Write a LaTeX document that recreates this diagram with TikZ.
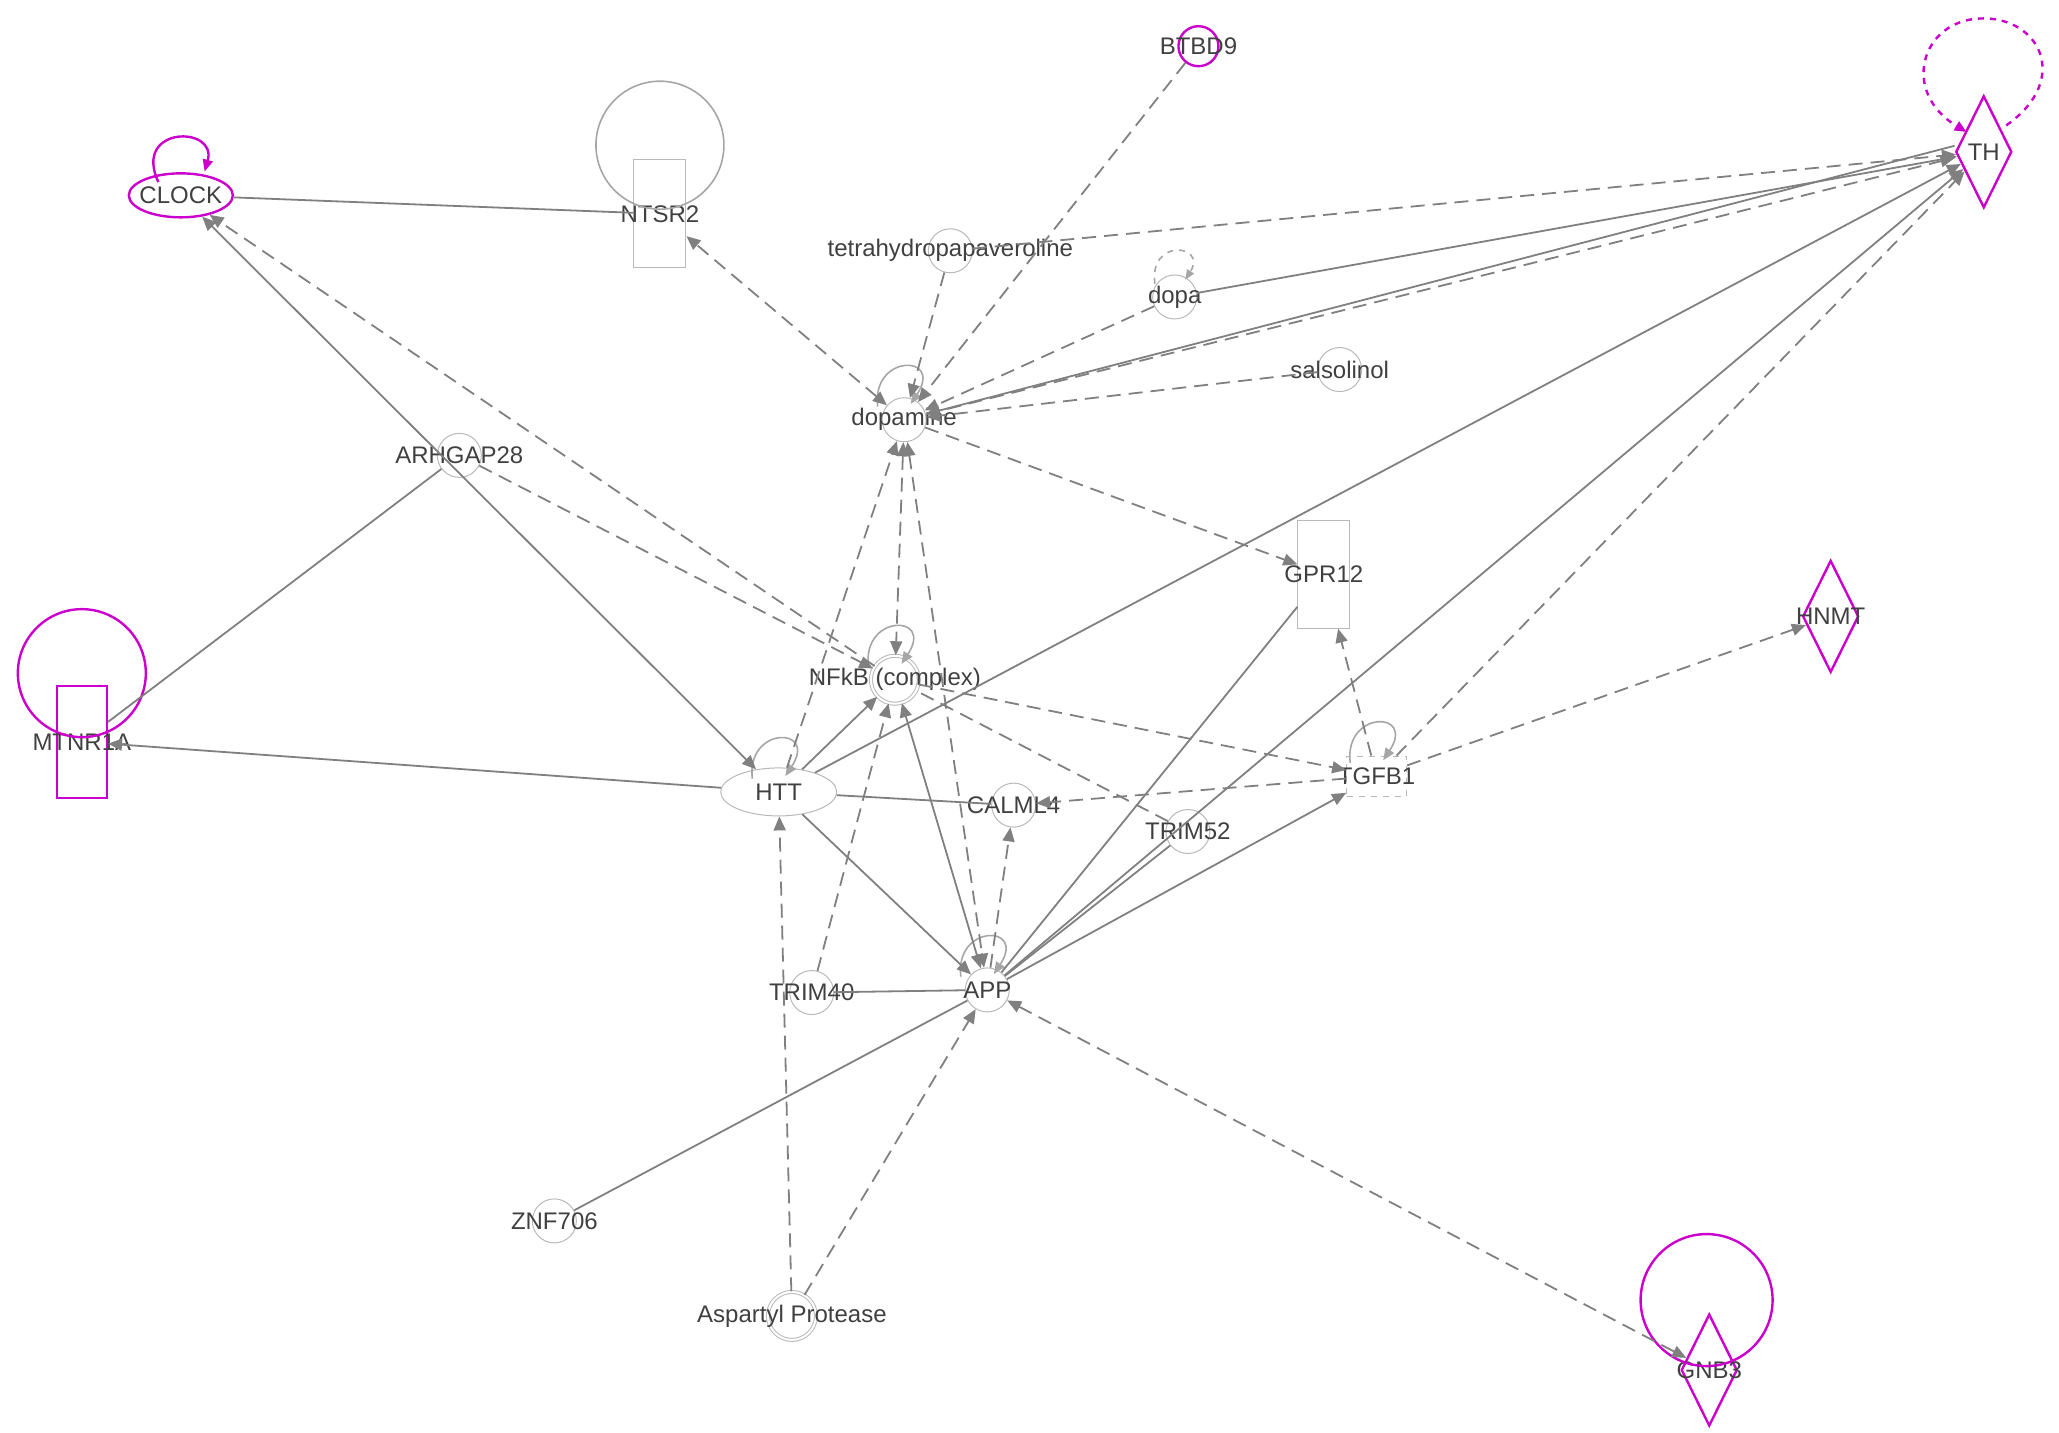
\documentclass[tikz,border=0pt]{standalone}
\usepackage{fontspec}
\setmainfont{Liberation Sans}
\usetikzlibrary{shapes.geometric,arrows.meta}
\definecolor{mg}{RGB}{204,0,204}
\begin{document}
\begin{tikzpicture}[x=0.66pt,y=-0.66pt,
  font=\fontsize{12}{14}\selectfont\color{black!75},
  sh/.style={draw=gray!55,line width=0.5pt,inner sep=0pt},
  circ/.style={sh,circle,minimum size=22pt,label={center:#1}},
  dcirc/.style={sh,circle,double,double distance=1pt,minimum size=24pt,label={center:#1}},
  rct/.style={sh,rectangle,minimum width=26pt,minimum height=54pt,label={center:#1}},
  mag/.style={draw=mg,line width=1.2pt},
  dia/.style={mag,diamond,aspect=0.5,minimum width=28pt,minimum height=56pt,inner sep=0pt,label={center:#1}},
  e/.style={draw=gray,line width=0.9pt},
  a/.style={e,-{Triangle[length=7pt,width=6pt]}},
  ba/.style={e,{Triangle[length=7pt,width=6pt]}-{Triangle[length=7pt,width=6pt]}},
  d/.style={dash pattern=on 7pt off 4pt},
  lp/.style={draw=gray!70,line width=0.8pt}]
\useasboundingbox (0,0) rectangle (1560,1085);
% nodes
\node[mag,ellipse,minimum width=52pt,minimum height=22pt,inner sep=0pt,label={center:CLOCK}] (clock) at (137,148) {};
\node[rct={NTSR2}] (ntsr2) at (500,162) {};
\node[mag,circle,minimum size=20pt,inner sep=0pt,label={center:BTBD9}] (btbd9) at (908,35) {};
\node[dia={TH}] (th) at (1503,115) {};
\node[circ={tetrahydropapaveroline}] (thp) at (720,190) {};
\node[circ={dopa}] (dopa) at (890,225) {};
\node[circ={salsolinol}] (sals) at (1015,280) {};
\node[circ={dopamine}] (dopamine) at (685,318) {};
\node[circ={ARHGAP28}] (arh) at (348,345) {};
\node[rct={GPR12}] (gpr12) at (1003,435) {};
\node[dia={HNMT}] (hnmt) at (1387,467) {};
\node[mag,rectangle,minimum width=25pt,minimum height=56pt,inner sep=0pt,label={center:MTNR1A}] (mtnr) at (62,562) {};
\node[dcirc={NFkB (complex)}] (nfkb) at (678,515) {};
\node[sh,ellipse,minimum width=58pt,minimum height=24pt,label={center:HTT}] (htt) at (590,600) {};
\node[circ={CALML4}] (calml) at (768,610) {};
\node[circ={TRIM52}] (trim52) at (900,630) {};
\node[sh,rectangle,dashed,minimum width=30pt,minimum height=20pt,label={center:TGFB1}] (tgfb) at (1043,588) {};
\node[circ={TRIM40}] (trim40) at (615,752) {};
\node[circ={APP}] (app) at (748,750) {};
\node[circ={ZNF706}] (znf) at (420,925) {};
\node[dcirc={Aspartyl Protease}] (asp) at (600,997) {};
\node[dia={GNB3}] (gnb3) at (1295,1038) {};
% loops
\draw[lp] (500,110) circle (32pt);
\draw[mag] (62,510) circle (32pt);
\draw[mag,dashed,-{Triangle[length=6pt,width=5pt]}] (1520,95) .. controls (1570,60) and (1545,12) .. (1500,14) .. controls (1455,16) and (1440,70) .. (1490,100);
\draw[mag] (1293,985) circle (33pt);
\draw[mag,-{Triangle[length=6pt,width=5pt]}] (120,138) .. controls (100,95) and (165,95) .. (155,130);
\draw[lp,dashed,-{Triangle[length=5pt,width=4pt]}] (875,215) .. controls (870,180) and (915,185) .. (898,212);
\foreach \n/\x/\y in {dopamine/685/318,nfkb/678/515,htt/590/600,app/748/750,tgfb/1043/588}
  \draw[lp,-{Triangle[length=6pt,width=5pt]}] (\x-20,\y-10) .. controls (\x-25,\y-50) and (\x+30,\y-50) .. (\x+5,\y-12);
% edges
\draw[e] (clock) -- (ntsr2);
\draw[ba] (clock) -- (htt);
\draw[a,d] (nfkb) -- (clock);
\draw[e] (arh) -- (mtnr);
\draw[a,d] (arh) -- (nfkb);
\draw[a] (htt) -- (mtnr);
\draw[ba,d] (dopamine) -- (ntsr2);
\draw[a,d] (thp) -- (dopamine);
\draw[a,d] (btbd9) -- (dopamine);
\draw[a,d] (dopa) -- (dopamine);
\draw[a,d] (sals) -- (dopamine);
\draw[a] ([yshift=3pt]th.west) -- (dopamine);
\draw[a,d] (dopamine) -- ([yshift=-3pt]th.west);
\draw[a] (dopa) -- (th);
\draw[a,d] (thp) -- (th);
\draw[a,d] (dopamine) -- (gpr12);
\draw[ba,d] (dopamine) -- (nfkb);
\draw[a,d] (htt) -- (dopamine);
\draw[ba,d] (dopamine) -- (app);
\draw[a] (htt) -- (th);
\draw[a] (app) -- (th);
\draw[a,d] (tgfb) -- (th);
\draw[a,d] (tgfb) -- (hnmt);
\draw[a,d] (tgfb) -- (gpr12);
\draw[e] (gpr12) -- (app);
\draw[a,d] (nfkb) -- (tgfb);
\draw[a,d] (tgfb) -- (calml);
\draw[e] (htt) -- (calml);
\draw[a] (htt) -- (nfkb);
\draw[a] (htt) -- (app);
\draw[ba] (app) -- (nfkb);
\draw[e,d] (trim52) -- (nfkb);
\draw[e] (trim52) -- (app);
\draw[a] (app) -- (tgfb);
\draw[a,d] (app) -- (calml);
\draw[e] (trim40) -- (app);
\draw[a,d] (trim40) -- (nfkb);
\draw[e] (znf) -- (app);
\draw[a,d] (asp) -- (htt);
\draw[a,d] (asp) -- (app);
\draw[ba,d] (app) -- (gnb3);
\end{tikzpicture}
\end{document}
